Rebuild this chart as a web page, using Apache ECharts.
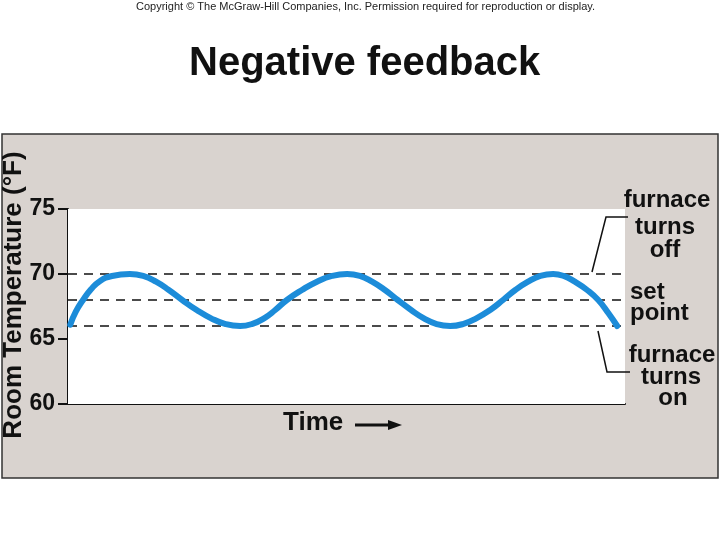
<!DOCTYPE html>
<html>
<head>
<meta charset="utf-8">
<script src="https://cdn.jsdelivr.net/npm/echarts@6/dist/echarts.min.js"></script>
<style>html,body{margin:0;padding:0;background:#fff}#c{width:720px;height:540px}</style>
</head>
<body>
<div id="c"></div>
<script>
// Time (arbitrary units, 0-100) and room temperature (°F)
const timeValues = [0.4, 1.4, 2.7, 4.1, 5.7, 7.9, 11.1, 13.5, 15.8, 18.1, 20.5, 23.1, 25.7, 28.3, 30.9, 33.0, 35.2, 37.2, 39.3, 42.0, 44.7, 47.4, 50.1, 52.4, 54.6, 56.9, 59.2, 61.6, 63.9, 66.2, 68.6, 70.9, 73.3, 75.8, 78.1, 80.3, 82.6, 84.8, 87.1, 89.0, 91.0, 93.2, 95.2, 97.0, 98.6];
const tempValues = [66.1, 67.1, 68.0, 68.8, 69.45, 69.85, 70.0, 69.85, 69.41, 68.77, 68.0, 67.23, 66.59, 66.15, 66.0, 66.15, 66.59, 67.23, 68.0, 68.77, 69.41, 69.85, 70.0, 69.85, 69.41, 68.77, 68.0, 67.23, 66.59, 66.15, 66.0, 66.15, 66.59, 67.23, 68.0, 68.77, 69.41, 69.85, 70.0, 69.85, 69.41, 68.77, 68.0, 67.0, 66.0];
const yTickValues = [60, 65, 70, 75];
const guideLevels = [70, 68, 66]; // furnace turns off, set point, furnace turns on

const chart = echarts.init(document.getElementById('c'));
const FONT = "'Liberation Sans', Arial, Helvetica, sans-serif";

const points = timeValues.map((t, i) => [t, tempValues[i]]);

const annText = (txt, x, y, align) => ({
  type: 'text', z: 10, x: x, y: y,
  style: { text: txt, font: "bold 24px " + FONT, fill: '#111', align: align || 'center', verticalAlign: 'middle' }
});

chart.setOption({
  backgroundColor: '#ffffff',
  animation: false,
  title: [
    { text: 'Copyright © The McGraw-Hill Companies, Inc. Permission required for reproduction or display.',
      left: 136, top: 0, padding: [1, 0, 0, 0],
      textStyle: { fontSize: 11, fontWeight: 'normal', color: '#222', fontFamily: FONT } },
    { text: 'Negative feedback', left: 189, top: 44, padding: 0,
      textStyle: { fontSize: 40, fontWeight: 'bold', color: '#111', fontFamily: FONT } }
  ],
  grid: { left: 68, right: 95, top: 209, bottom: 136, show: true, backgroundColor: '#ffffff', borderWidth: 0, z: 1 },
  xAxis: {
    type: 'value', min: 0, max: 100,
    axisLine: { show: true, lineStyle: { color: '#111', width: 2 } },
    axisTick: { show: false }, axisLabel: { show: false }, splitLine: { show: false }
  },
  yAxis: {
    type: 'value', min: 60, max: 75, interval: 5,
    axisLine: { show: true, lineStyle: { color: '#111', width: 2 } },
    axisTick: { show: true, inside: false, length: 10, lineStyle: { color: '#111', width: 2 } },
    axisLabel: { show: true, margin: 13, fontSize: 23, fontWeight: 'bold', color: '#111', fontFamily: FONT,
      formatter: v => yTickValues.includes(v) ? String(v) : '' },
    splitLine: { show: false }
  },
  graphic: [
    { type: 'rect', z: -100, silent: true, shape: { x: 2, y: 134, width: 716, height: 344 },
      style: { fill: '#d9d3cf', stroke: '#333', lineWidth: 1.5 } },
    { type: 'text', z: 10, x: 14, y: 295, rotation: Math.PI / 2,
      style: { text: 'Room Temperature (°F)', font: "bold 26px " + FONT, fill: '#111', align: 'center', verticalAlign: 'middle' } },
    { type: 'text', z: 10, x: 283, y: 423,
      style: { text: 'Time', font: "bold 26px " + FONT, fill: '#111', align: 'left', verticalAlign: 'middle' } },
    { type: 'line', z: 10, shape: { x1: 355, y1: 425, x2: 392, y2: 425 }, style: { stroke: '#111', lineWidth: 3 } },
    { type: 'polygon', z: 10, shape: { points: [[388, 420], [402, 425], [388, 430]] }, style: { fill: '#111' } },
    annText('furnace', 667, 200), annText('turns', 665, 227), annText('off', 665, 250),
    annText('set', 630, 292, 'left'), annText('point', 630, 313, 'left'),
    annText('furnace', 672, 355), annText('turns', 671, 377), annText('on', 673, 398),
    { type: 'polyline', z: 10, shape: { points: [[592, 272], [606, 217], [628, 217]] }, style: { stroke: '#111', lineWidth: 1.5, fill: null } },
    { type: 'polyline', z: 10, shape: { points: [[598, 331], [607, 372], [630, 372]] }, style: { stroke: '#111', lineWidth: 1.5, fill: null } }
  ],
  series: [
    { type: 'line', data: [], z: 2, silent: true,
      markLine: { silent: true, symbol: 'none', label: { show: false },
        lineStyle: { color: '#111', type: [9, 7], width: 1.5 },
        data: guideLevels.map(v => ({ yAxis: v })) } },
    { type: 'line', data: points, smooth: 0.5, symbol: 'none', z: 5,
      lineStyle: { color: '#1c8cd9', width: 6, cap: 'round' } }
  ]
});
</script>
</body>
</html>
